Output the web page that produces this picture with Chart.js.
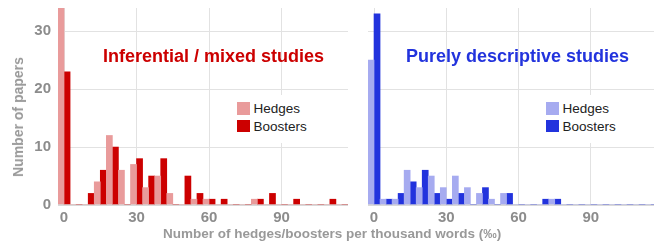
<!DOCTYPE html>
<html>
<head>
<meta charset="utf-8">
<script src="https://cdn.jsdelivr.net/npm/chart.js@4.4.1/dist/chart.umd.min.js"></script>
<style>
  html, body { margin: 0; padding: 0; background: #fff; }
  #wrap { position: relative; width: 654px; height: 245px; overflow: hidden;
          font-family: "Liberation Sans", Arial, sans-serif; }
  .panel { position: absolute; top: 0; height: 245px; }
  .title { position: absolute; font-size: 18px; font-weight: bold; line-height: 18px; white-space: nowrap; }
  .legend { position: absolute; background: #fff; padding: 7px 6px 6px 5px; font-size: 13.5px; color: #222; }
  .legend div { height: 17.6px; line-height: 13px; white-space: nowrap; }
  .legend span { display: inline-block; width: 12.5px; height: 12.5px; vertical-align: top; margin-right: 4px; }
  .axis-title { position: absolute; font-size: 13.5px; font-weight: bold; color: #999; white-space: nowrap; }
</style>
</head>
<body>
<div id="wrap">
  <div class="panel" style="left:0;width:348px"><canvas id="leftChart"></canvas></div>
  <div class="panel" style="left:350px;width:304px"><canvas id="rightChart"></canvas></div>

  <div class="title" style="left:103px;top:47px;color:#cc0000">Inferential / mixed studies</div>
  <div class="title" style="left:406px;top:47px;color:#2233dd">Purely descriptive studies</div>

  <div class="legend" style="left:232px;top:95px">
    <div><span style="background:#e99b9b"></span>Hedges</div>
    <div><span style="background:#cc0000"></span>Boosters</div>
  </div>
  <div class="legend" style="left:541px;top:95px">
    <div><span style="background:#a6abf0"></span>Hedges</div>
    <div><span style="background:#2233dd"></span>Boosters</div>
  </div>

  <div class="axis-title" style="left:163px;top:226px">Number of hedges/boosters per thousand words (‰)</div>
  <div class="axis-title" style="left:18px;top:117px;font-size:14px;transform:translate(-50%,-50%) rotate(-90deg)">Number of papers</div>
</div>

<script>
"use strict";

/* ── Datos ─────────────────────────────────────────────────── */
const bins = [0, 5, 10, 15, 20, 25, 30, 35, 40, 45, 50, 55,
              60, 65, 70, 75, 80, 85, 90, 95, 100, 105, 110, 115];

const inferHedges   = [34, 0, 0, 4, 12, 6, 7, 3, 5, 2, 0, 1, 1, 0, 0, 0, 1, 0, 0, 0, 0, 0, 0, 0];
const inferBoosters = [23, 0, 2, 6, 10, 0, 8, 5, 8, 0, 5, 2, 1, 1, 0, 0, 1, 2, 0, 1, 0, 0, 1, 0];

const descHedges    = [25, 1, 1, 6, 3, 5, 3, 5, 3, 2, 1, 2, 0, 0, 0, 1, 0, 0, 0, 0, 0, 0, 0, 0];
const descBoosters  = [33, 1, 2, 4, 6, 2, 1, 2, 0, 3, 0, 2, 0, 0, 1, 1, 0, 0, 0, 0, 0, 0, 0, 0];

const xTicks = [0, 30, 60, 90];
const yTicks = [0, 10, 20, 30];

/* ── Helpers ───────────────────────────────────────────────── */
const TICK_COLOR = "#8c8c8c";
const GRID_COLOR = "#e2e2e2";
const TICK_FONT  = { family: "'Liberation Sans', Arial, sans-serif", size: 15, weight: "bold" };

function toPoints(vals) {
  return vals.map((v, i) => ({ x: bins[i], y: v }));
}

/* Fija el tamaño de los ejes y quita el padding automático de etiquetas */
function fixX(s) {
  s.height = 40;
  s.paddingLeft = 0; s.paddingRight = 0;
}
function fixY(width) {
  return s => {
    s.width = width;
    s.paddingTop = 0; s.paddingBottom = 0;
  };
}

function buildChart(canvasId, hedges, boosters, colors, opts) {
  const ctx = document.getElementById(canvasId);
  return new Chart(ctx, {
    type: "bar",
    data: {
      datasets: [
        { label: "Hedges",   data: toPoints(hedges),   backgroundColor: colors[0] },
        { label: "Boosters", data: toPoints(boosters), backgroundColor: colors[1] },
      ]
    },
    options: {
      responsive: true,
      maintainAspectRatio: false,
      animation: false,
      categoryPercentage: 1,
      barPercentage: 1,
      layout: { padding: { top: 8, right: 0, left: 0, bottom: 0 } },
      scales: {
        x: {
          type: "linear",
          min: -2.5, max: opts.xMax,
          offset: false,
          afterBuildTicks: s => { s.ticks = xTicks.map(v => ({ value: v })); },
          afterFit: fixX,
          ticks: { color: TICK_COLOR, font: TICK_FONT, padding: 4, maxRotation: 0 },
          grid: { offset: false, drawTicks: false, color: GRID_COLOR },
          border: { display: false },
        },
        y: {
          min: 0, max: 34,
          afterBuildTicks: s => { s.ticks = yTicks.map(v => ({ value: v })); },
          afterFit: fixY(opts.yWidth),
          ticks: { display: opts.yLabels, color: TICK_COLOR, font: TICK_FONT, padding: 7 },
          grid: {
            drawTicks: false,
            color: c => c.tick && c.tick.value === 0 ? "#d9d9d9" : GRID_COLOR,
            lineWidth: c => c.tick && c.tick.value === 0 ? 2 : 1,
          },
          border: { display: false },
        }
      },
      plugins: {
        legend: { display: false },
        tooltip: { enabled: false },
      },
    }
  });
}

buildChart("leftChart",  inferHedges, inferBoosters, ["#e99b9b", "#cc0000"], { xMax: 117.5, yWidth: 58, yLabels: true });
buildChart("rightChart", descHedges,  descBoosters,  ["#a6abf0", "#2233dd"], { xMax: 116.2, yWidth: 18, yLabels: false });
</script>
</body>
</html>
